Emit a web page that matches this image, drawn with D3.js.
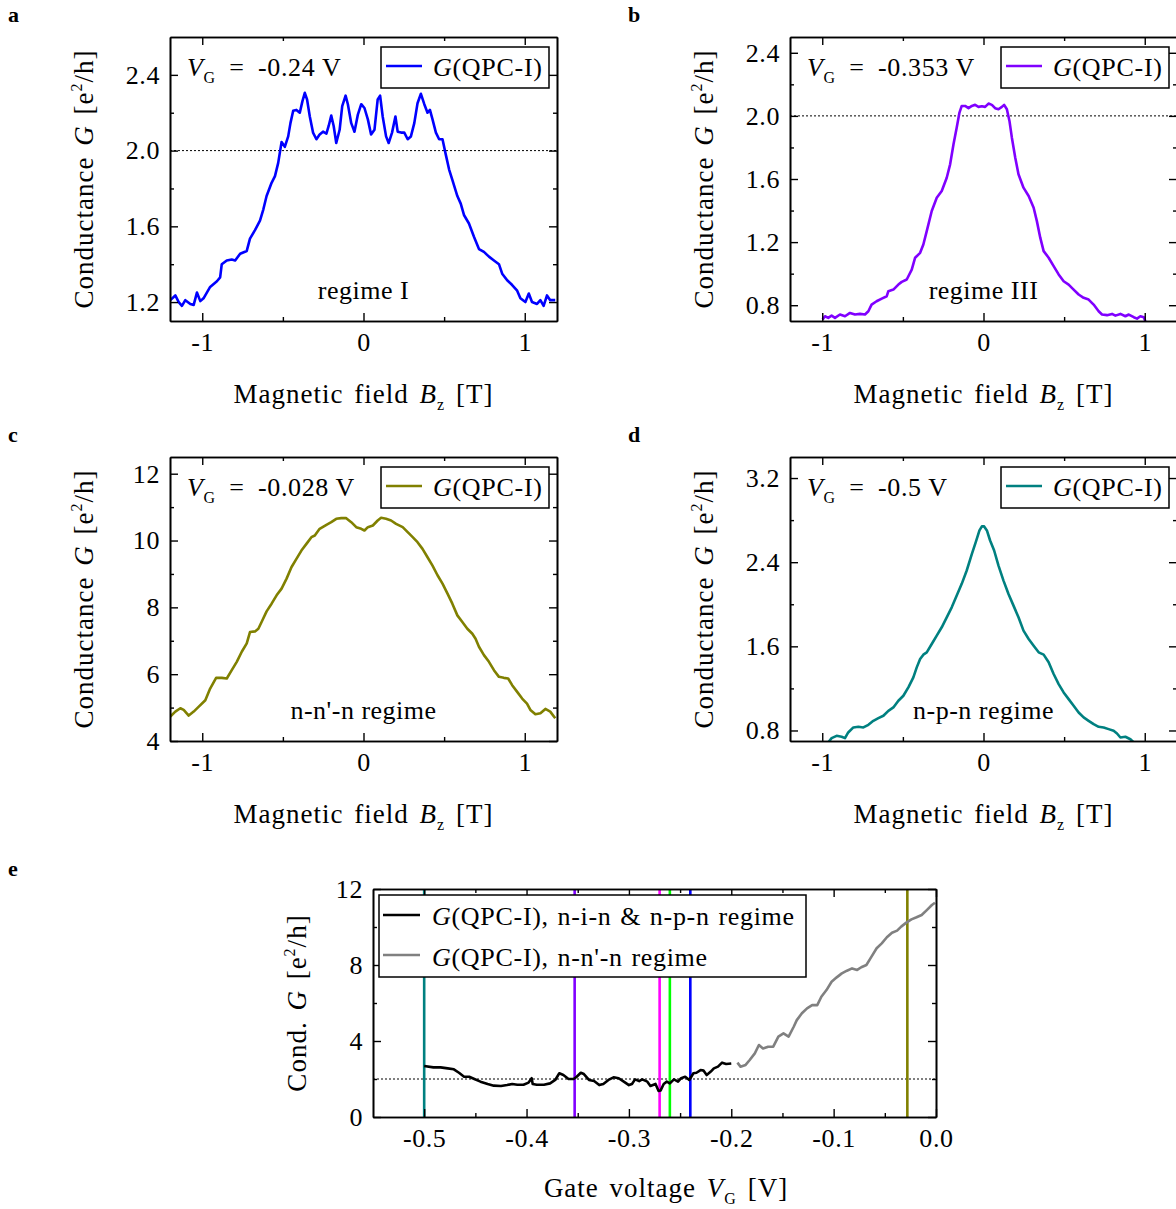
<!DOCTYPE html>
<html><head><meta charset="utf-8">
<script src="https://cdn.jsdelivr.net/npm/d3@7"></script>
<style>
body{margin:0;background:#fff;}
svg text{font-family:"Liberation Serif","Times New Roman",serif;}
</style></head><body>
<svg id="chart" width="1176" height="1209"></svg>
<script>
// ---------------- DATA ----------------
// Panel a: VG = -0.24 V, regime I
const aB = [-1.198,-1.167,-1.146,-1.126,-1.105,-1.074,-1.053,-1.033,-1.012,-0.992,-0.951,-0.909,-0.889,-0.879,-0.848,-0.817,-0.796,-0.765,-0.724,-0.704,-0.673,-0.642,-0.621,-0.601,-0.570,-0.549,-0.529,-0.508,-0.488,-0.467,-0.453,-0.436,-0.416,-0.395,-0.379,-0.364,-0.350,-0.333,-0.313,-0.292,-0.272,-0.251,-0.230,-0.216,-0.200,-0.185,-0.169,-0.148,-0.132,-0.111,-0.097,-0.076,-0.056,-0.035,-0.014,0.006,0.027,0.047,0.068,0.088,0.103,0.119,0.140,0.156,0.177,0.198,0.212,0.233,0.253,0.274,0.294,0.315,0.335,0.356,0.377,0.397,0.412,0.428,0.449,0.469,0.490,0.510,0.531,0.551,0.582,0.603,0.623,0.654,0.685,0.716,0.747,0.778,0.809,0.840,0.860,0.891,0.922,0.953,0.973,1.004,1.025,1.045,1.076,1.097,1.117,1.138,1.158,1.189];
const aG = [1.21,1.235,1.20,1.18,1.21,1.19,1.185,1.25,1.205,1.22,1.28,1.31,1.33,1.40,1.42,1.425,1.42,1.455,1.47,1.535,1.58,1.63,1.69,1.76,1.83,1.865,1.935,2.045,2.02,2.075,2.145,2.21,2.215,2.20,2.26,2.305,2.27,2.18,2.095,2.06,2.085,2.10,2.09,2.13,2.185,2.13,2.04,2.11,2.235,2.29,2.245,2.145,2.10,2.19,2.245,2.225,2.165,2.085,2.11,2.27,2.29,2.18,2.075,2.04,2.095,2.18,2.10,2.095,2.095,2.06,2.075,2.145,2.25,2.30,2.245,2.20,2.215,2.165,2.095,2.06,2.06,1.98,1.90,1.845,1.76,1.72,1.66,1.615,1.545,1.48,1.465,1.44,1.42,1.40,1.35,1.315,1.29,1.26,1.22,1.20,1.245,1.20,1.19,1.21,1.18,1.235,1.21,1.21];

// Panel b: VG = -0.353 V, regime III
const bB = [-0.998,-0.983,-0.963,-0.942,-0.921,-0.890,-0.859,-0.828,-0.797,-0.766,-0.735,-0.714,-0.694,-0.663,-0.631,-0.600,-0.590,-0.559,-0.528,-0.507,-0.476,-0.445,-0.424,-0.393,-0.373,-0.352,-0.321,-0.290,-0.259,-0.228,-0.207,-0.186,-0.166,-0.149,-0.135,-0.114,-0.093,-0.072,-0.052,-0.031,-0.010,0.010,0.031,0.052,0.072,0.093,0.114,0.128,0.145,0.161,0.176,0.197,0.217,0.248,0.280,0.311,0.331,0.352,0.373,0.404,0.435,0.466,0.497,0.528,0.559,0.590,0.621,0.652,0.683,0.714,0.735,0.766,0.797,0.818,0.849,0.880,0.901,0.932,0.952,0.973,0.994,1.004];
const bG = [0.709,0.730,0.720,0.734,0.720,0.741,0.730,0.751,0.741,0.745,0.741,0.762,0.804,0.825,0.842,0.857,0.889,0.899,0.931,0.948,0.963,1.026,1.101,1.132,1.185,1.270,1.397,1.481,1.524,1.608,1.693,1.820,1.926,2.021,2.063,2.063,2.049,2.063,2.070,2.057,2.061,2.057,2.078,2.070,2.049,2.042,2.057,2.070,2.042,1.968,1.862,1.735,1.630,1.545,1.492,1.418,1.333,1.228,1.143,1.101,1.048,0.995,0.952,0.931,0.899,0.868,0.847,0.836,0.804,0.762,0.741,0.737,0.745,0.734,0.745,0.730,0.741,0.724,0.715,0.730,0.724,0.698];

// Panel c: VG = -0.028 V, n-n'-n regime
const cB = [-1.198,-1.167,-1.136,-1.115,-1.084,-1.053,-1.023,-0.981,-0.951,-0.914,-0.879,-0.848,-0.817,-0.786,-0.755,-0.724,-0.704,-0.673,-0.652,-0.632,-0.601,-0.570,-0.539,-0.508,-0.477,-0.447,-0.416,-0.385,-0.354,-0.323,-0.302,-0.272,-0.230,-0.200,-0.169,-0.138,-0.107,-0.076,-0.045,-0.014,0.006,0.027,0.058,0.088,0.109,0.140,0.171,0.202,0.243,0.274,0.305,0.335,0.366,0.397,0.428,0.459,0.490,0.521,0.551,0.582,0.613,0.644,0.675,0.695,0.716,0.747,0.778,0.809,0.840,0.870,0.897,0.922,0.953,0.984,1.014,1.035,1.066,1.097,1.128,1.158,1.189];
const cG = [4.73,4.88,4.98,4.93,4.76,4.88,5.02,5.22,5.57,5.89,5.89,5.87,6.12,6.37,6.67,6.92,7.26,7.28,7.36,7.56,7.88,8.11,8.36,8.56,8.86,9.20,9.45,9.70,9.90,10.10,10.15,10.35,10.47,10.55,10.65,10.67,10.67,10.55,10.40,10.35,10.30,10.40,10.45,10.60,10.68,10.65,10.60,10.50,10.40,10.25,10.10,9.95,9.75,9.50,9.25,8.96,8.71,8.41,8.11,7.76,7.56,7.36,7.21,7.06,6.82,6.57,6.37,6.12,5.92,5.89,5.87,5.67,5.47,5.27,5.12,4.93,4.80,4.83,4.96,4.88,4.68];

// Panel d: VG = -0.5 V, n-p-n regime
const dB = [-0.975,-0.963,-0.942,-0.911,-0.880,-0.859,-0.839,-0.807,-0.776,-0.745,-0.714,-0.683,-0.652,-0.621,-0.590,-0.559,-0.528,-0.497,-0.466,-0.435,-0.414,-0.393,-0.373,-0.352,-0.321,-0.290,-0.259,-0.228,-0.197,-0.166,-0.135,-0.104,-0.072,-0.048,-0.025,-0.010,0.004,0.021,0.041,0.066,0.093,0.124,0.155,0.186,0.217,0.248,0.280,0.311,0.342,0.373,0.404,0.435,0.466,0.497,0.528,0.559,0.590,0.621,0.652,0.683,0.714,0.745,0.776,0.807,0.828,0.849,0.880,0.911,0.932,0.945];
const dG = [0.66,0.686,0.727,0.749,0.740,0.727,0.781,0.829,0.835,0.829,0.854,0.892,0.917,0.940,0.987,1.019,1.083,1.130,1.210,1.305,1.400,1.479,1.521,1.543,1.622,1.702,1.781,1.876,1.971,2.083,2.194,2.321,2.479,2.590,2.702,2.740,2.740,2.702,2.606,2.511,2.368,2.225,2.098,1.987,1.876,1.749,1.670,1.606,1.543,1.521,1.448,1.337,1.241,1.162,1.098,1.035,0.971,0.924,0.892,0.860,0.835,0.829,0.813,0.797,0.771,0.733,0.740,0.717,0.686,0.66];

// Panel e: gate-voltage sweep
const eV1 = [-0.500,-0.491,-0.484,-0.477,-0.471,-0.466,-0.461,-0.456,-0.451,-0.445,-0.438,-0.432,-0.425,-0.419,-0.414,-0.409,-0.403,-0.398,-0.395,-0.394,-0.390,-0.383,-0.377,-0.372,-0.368,-0.364,-0.359,-0.354,-0.351,-0.347,-0.344,-0.339,-0.334,-0.329,-0.325,-0.320,-0.315,-0.310,-0.305,-0.300,-0.297,-0.294,-0.290,-0.287,-0.282,-0.279,-0.274,-0.271,-0.269,-0.266,-0.263,-0.260,-0.256,-0.252,-0.249,-0.245,-0.241,-0.237,-0.234,-0.230,-0.227,-0.224,-0.220,-0.217,-0.213,-0.209,-0.205,-0.200];
const eG1 = [2.68,2.61,2.61,2.56,2.51,2.33,2.12,2.12,2.00,1.86,1.74,1.65,1.63,1.68,1.74,1.70,1.70,1.81,2.04,1.74,1.70,1.70,1.77,1.95,2.30,2.21,2.00,2.00,2.12,2.33,2.26,1.95,1.89,1.68,1.74,1.95,2.09,2.04,1.86,1.68,1.74,1.98,1.89,1.98,1.86,1.63,1.74,1.37,1.40,1.74,1.86,1.77,1.98,1.86,2.04,2.12,1.95,2.30,2.33,2.47,2.44,2.21,2.39,2.56,2.65,2.86,2.79,2.82];
const eV2 = [-0.194,-0.191,-0.186,-0.182,-0.177,-0.173,-0.169,-0.164,-0.159,-0.154,-0.149,-0.144,-0.139,-0.136,-0.131,-0.126,-0.121,-0.116,-0.112,-0.107,-0.102,-0.097,-0.092,-0.087,-0.082,-0.077,-0.073,-0.068,-0.063,-0.058,-0.053,-0.048,-0.043,-0.038,-0.034,-0.029,-0.024,-0.019,-0.014,-0.009,-0.004,-0.001];
const eG2 = [2.86,2.65,2.74,3.00,3.35,3.79,3.61,3.70,3.70,4.23,4.40,4.23,4.75,5.10,5.46,5.72,5.89,5.89,6.33,6.68,7.12,7.35,7.56,7.70,7.82,7.74,7.88,8.00,8.44,8.88,9.14,9.46,9.70,9.81,10.02,10.23,10.40,10.51,10.63,10.89,11.16,11.28];
const markerVG = [-0.5, -0.353, -0.27, -0.26, -0.24, -0.028];
const markerColors = ["#008080", "#8000ff", "#ff00ff", "#00ff00", "#0000ff", "#808000"];

// tick values
const bMajor = [-1, 0, 1], bMinor = [-0.5, 0.5];
const vMajor = [-0.5, -0.4, -0.3, -0.2, -0.1, 0], vMinor = [-0.45, -0.35, -0.25, -0.15, -0.05];

// ---------------- DRAWING ----------------
const svg = d3.select("#chart");
const FS = 26;
let clipId = 0;

function rich(sel, parts, fs) {
  let shift = 0;
  parts.forEach(p => {
    const ts = sel.append("tspan").text(p.t);
    let target = 0, size = fs;
    if (p.sub) { target = 7; size = 16; }
    if (p.sup) { target = -11; size = 16; }
    ts.attr("font-size", size);
    if (p.i) ts.attr("font-style", "italic");
    if (target !== shift) { ts.attr("dy", target - shift); shift = target; }
  });
}

function styleAxis(a) {
  a.attr("font-family", null).attr("font-size", null);
  a.select(".domain").attr("stroke-width", 1.6).attr("stroke", "#000");
  a.selectAll(".tick line").attr("stroke-width", 1.4).attr("stroke", "#000");
  a.selectAll(".tick text").attr("font-size", FS).attr("fill", "#000").attr("letter-spacing", 0.6);
}

function frame(g, x, y, w, h, o) {
  const add = (ax, tr) => { const s = g.append("g").attr("transform", tr).call(ax); styleAxis(s); return s; };
  add(d3.axisBottom(x).tickValues(o.xMinor).tickSize(-4).tickSizeOuter(0).tickFormat(""), `translate(0,${h})`);
  add(d3.axisTop(x).tickValues(o.xMinor).tickSize(-4).tickSizeOuter(0).tickFormat(""), `translate(0,0)`);
  add(d3.axisLeft(y).tickValues(o.yMinor).tickSize(-4).tickSizeOuter(0).tickFormat(""), `translate(0,0)`);
  add(d3.axisRight(y).tickValues(o.yMinor).tickSize(-4).tickSizeOuter(0).tickFormat(""), `translate(${w},0)`);
  add(d3.axisBottom(x).tickValues(o.xMajor).tickSize(-8).tickSizeOuter(0).tickPadding(12).tickFormat(o.xFmt), `translate(0,${h})`);
  add(d3.axisTop(x).tickValues(o.xMajor).tickSize(-8).tickSizeOuter(0).tickFormat(""), `translate(0,0)`);
  add(d3.axisLeft(y).tickValues(o.yMajor).tickSize(-8).tickSizeOuter(0).tickPadding(10).tickFormat(o.yFmt), `translate(0,0)`);
  add(d3.axisRight(y).tickValues(o.yMajor).tickSize(-8).tickSizeOuter(0).tickFormat(""), `translate(${w},0)`);
}

function makePanel(o) {
  const w = o.w, h = o.h;
  const g = svg.append("g").attr("transform", `translate(${o.left},${o.top})`);
  const x = d3.scaleLinear().domain(o.xDomain).range([0, w]);
  const y = d3.scaleLinear().domain(o.yDomain).range([h, 0]);
  const id = "clip" + (clipId++);
  g.append("clipPath").attr("id", id).append("rect").attr("width", w).attr("height", h);
  const plot = g.append("g").attr("clip-path", `url(#${id})`);
  if (o.dotted != null) {
    plot.append("line").attr("x1", 0).attr("x2", w).attr("y1", y(o.dotted)).attr("y2", y(o.dotted))
      .attr("stroke", "#000").attr("stroke-width", 1).attr("stroke-dasharray", "2,2");
  }
  return { g, plot, x, y, w, h };
}

function drawSeries(p, xs, ys, color, width) {
  const line = d3.line().x(d => p.x(d[0])).y(d => p.y(d[1]));
  p.plot.append("path").datum(xs.map((v, i) => [v, ys[i]]))
    .attr("d", line).attr("fill", "none").attr("stroke", color)
    .attr("stroke-width", width || 2.6).attr("stroke-linejoin", "round");
}

function title(t) { return t.attr("font-size", 27).attr("letter-spacing", 1).attr("word-spacing", 3); }

function fieldPanel(o) {
  const p = makePanel({ left: o.left, top: o.top, w: 387, h: 284, xDomain: [-1.2, 1.2], yDomain: o.yDomain, dotted: o.dotted });
  drawSeries(p, o.xs, o.ys, o.color);
  frame(p.g, p.x, p.y, p.w, p.h, { xMajor: bMajor, xMinor: bMinor, yMajor: o.yMajor, yMinor: o.yMinor, xFmt: d => String(d), yFmt: o.yFmt });
  // VG annotation
  const t = p.g.append("text").attr("x", 17).attr("y", 39).attr("font-size", FS).attr("letter-spacing", 0.6);
  rich(t, [{ t: "V", i: true }, { t: "G", sub: true }, { t: "\u2002=\u2002" + o.vg + " V" }], FS);
  // legend
  const lg = p.g.append("g").attr("transform", "translate(211,10)");
  lg.append("rect").attr("width", 168).attr("height", 41).attr("fill", "#fff").attr("stroke", "#000").attr("stroke-width", 1.5);
  lg.append("line").attr("x1", 5).attr("x2", 41).attr("y1", 19).attr("y2", 19).attr("stroke", o.color).attr("stroke-width", 2.6);
  const lt = lg.append("text").attr("x", 52).attr("y", 28.5).attr("font-size", FS).attr("letter-spacing", 0.7);
  rich(lt, [{ t: "G", i: true }, { t: "(QPC-I)" }], FS);
  // regime label
  p.g.append("text").attr("x", p.w / 2).attr("y", 262).attr("text-anchor", "middle").attr("font-size", FS).attr("letter-spacing", 0.5).text(o.regime);
  // axis titles
  const xt = title(p.g.append("text").attr("x", p.w / 2).attr("y", 366).attr("text-anchor", "middle"));
  rich(xt, [{ t: "Magnetic field " }, { t: "B", i: true }, { t: "z", sub: true }, { t: " [T]" }], 27);
  const yt = title(p.g.append("text").attr("transform", `translate(-77,${p.h / 2}) rotate(-90)`).attr("text-anchor", "middle"));
  rich(yt, [{ t: "Conductance " }, { t: "G", i: true }, { t: " [e" }, { t: "2", sup: true }, { t: "/h]" }], 27);
  // panel letter
  svg.append("text").attr("x", o.left - 162).attr("y", o.top - 15).attr("font-size", 22).attr("font-weight", "bold").text(o.letter);
}

const f1 = d3.format(".1f");
fieldPanel({ letter: "a", left: 170, top: 37, yDomain: [1.1, 2.6], yMajor: [1.2, 1.6, 2.0, 2.4], yMinor: [1.4, 1.8, 2.2], yFmt: f1, dotted: 2.0, xs: aB, ys: aG, color: "#0000ff", vg: "-0.24", regime: "regime I" });
fieldPanel({ letter: "b", left: 790, top: 37, yDomain: [0.7, 2.5], yMajor: [0.8, 1.2, 1.6, 2.0, 2.4], yMinor: [1.0, 1.4, 1.8, 2.2], yFmt: f1, dotted: 2.0, xs: bB, ys: bG, color: "#8000ff", vg: "-0.353", regime: "regime III" });
fieldPanel({ letter: "c", left: 170, top: 457, yDomain: [4, 12.5], yMajor: [4, 6, 8, 10, 12], yMinor: [5, 7, 9, 11], yFmt: d => String(d), dotted: null, xs: cB, ys: cG, color: "#808000", vg: "-0.028", regime: "n-n'-n regime" });
fieldPanel({ letter: "d", left: 790, top: 457, yDomain: [0.7, 3.4], yMajor: [0.8, 1.6, 2.4, 3.2], yMinor: [1.2, 2.0, 2.8], yFmt: f1, dotted: null, xs: dB, ys: dG, color: "#008080", vg: "-0.5", regime: "n-p-n regime" });

// Panel e
(function () {
  const p = makePanel({ left: 373, top: 889, w: 563, h: 228, xDomain: [-0.55, 0], yDomain: [0, 12], dotted: 2 });
  markerVG.forEach((v, i) => {
    p.plot.append("line").attr("x1", p.x(v)).attr("x2", p.x(v)).attr("y1", 0).attr("y2", p.h)
      .attr("stroke", markerColors[i]).attr("stroke-width", 2.6);
  });
  drawSeries(p, eV1, eG1, "#000");
  drawSeries(p, eV2, eG2, "#808080");
  frame(p.g, p.x, p.y, p.w, p.h, { xMajor: vMajor, xMinor: vMinor, yMajor: [0, 4, 8, 12], yMinor: [2, 6, 10], xFmt: d => d.toFixed(1), yFmt: d => String(d) });
  const lg = p.g.append("g").attr("transform", "translate(6,6)");
  lg.append("rect").attr("width", 427).attr("height", 82).attr("fill", "#fff").attr("stroke", "#000").attr("stroke-width", 1.5);
  [["#000", "n-i-n & n-p-n regime"], ["#808080", "n-n'-n regime"]].forEach((e, i) => {
    lg.append("line").attr("x1", 4).attr("x2", 41).attr("y1", 20 + 40 * i).attr("y2", 20 + 40 * i).attr("stroke", e[0]).attr("stroke-width", 2.6);
    const t = lg.append("text").attr("x", 53).attr("y", 30 + 41 * i).attr("font-size", FS).attr("letter-spacing", 0.7).attr("word-spacing", 1.5);
    rich(t, [{ t: "G", i: true }, { t: "(QPC-I), " + e[1] }], FS);
  });
  const xt = title(p.g.append("text").attr("x", 293).attr("y", 308).attr("text-anchor", "middle"));
  rich(xt, [{ t: "Gate voltage " }, { t: "V", i: true }, { t: "G", sub: true }, { t: " [V]" }], 27);
  const yt = title(p.g.append("text").attr("transform", `translate(-67,${p.h / 2}) rotate(-90)`).attr("text-anchor", "middle"));
  rich(yt, [{ t: "Cond. " }, { t: "G", i: true }, { t: " [e" }, { t: "2", sup: true }, { t: "/h]" }], 27);
  svg.append("text").attr("x", 8).attr("y", 876).attr("font-size", 22).attr("font-weight", "bold").text("e");
})();
</script>
</body></html>
